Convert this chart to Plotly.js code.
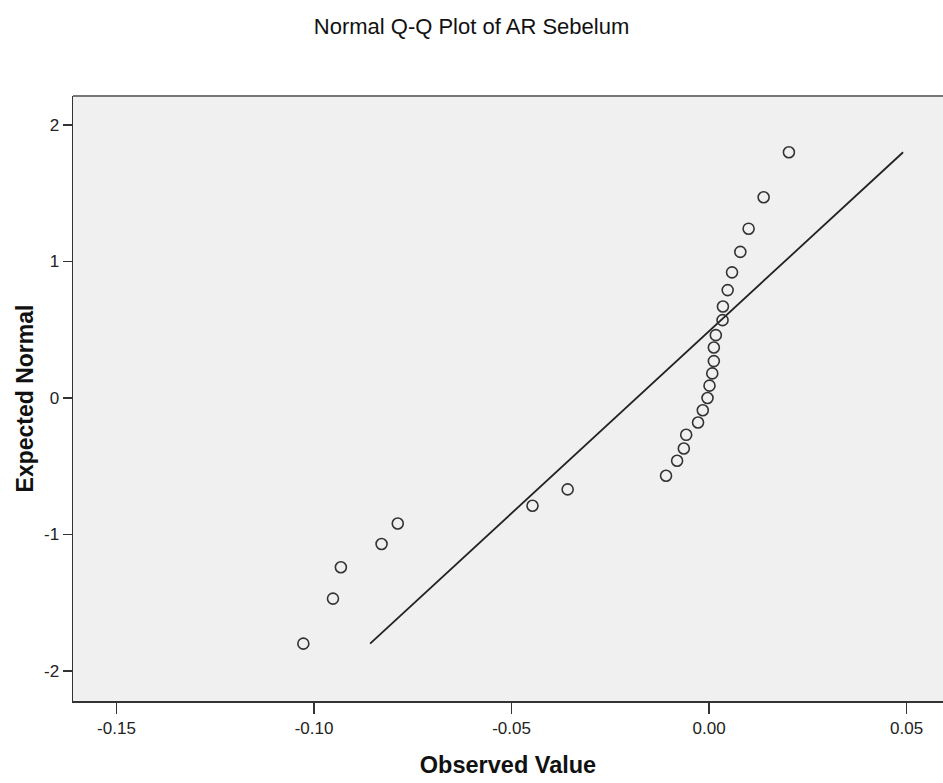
<!DOCTYPE html>
<html>
<head>
<meta charset="utf-8">
<script src="https://cdn.plot.ly/plotly-3.0.1.min.js"></script>
<style>html,body{margin:0;padding:0;background:#fff;}#chart{width:943px;height:783px;}</style>
</head>
<body>
<div id="chart"></div>
<script>
const observedValues = [-0.1027, -0.0952, -0.0932, -0.0829, -0.0788, -0.0447, -0.0358,
  -0.0109, -0.0081, -0.0064, -0.0058, -0.0028, -0.0016, -0.0004, 0.0001, 0.0008,
  0.0012, 0.0012, 0.0017, 0.0034, 0.0035, 0.0047, 0.0058, 0.0079, 0.0100, 0.0138, 0.0202];
const expectedNormal = [-1.80, -1.47, -1.24, -1.07, -0.92, -0.79, -0.67,
  -0.57, -0.46, -0.37, -0.27, -0.18, -0.09, 0.00, 0.09, 0.18,
  0.27, 0.37, 0.46, 0.57, 0.67, 0.79, 0.92, 1.07, 1.24, 1.47, 1.80];
// Reference line end points
const refLineX = [-0.0858, 0.0491];
const refLineY = [-1.80, 1.80];
// Axis ticks
const xTickVals = [-0.15, -0.10, -0.05, 0.00, 0.05];
const xTickText = ["-0.15", "-0.10", "-0.05", "0.00", "0.05"];
const yTickVals = [-2, -1, 0, 1, 2];
const yTickText = ["-2", "-1", "0", "1", "2"];

const axisColor = '#333333';
const fontFam = '"Liberation Sans", Arial, sans-serif';

const traces = [
  {
    x: refLineX, y: refLineY, type: 'scatter', mode: 'lines',
    line: {color: '#222222', width: 1.8}, hoverinfo: 'skip', showlegend: false
  },
  {
    x: observedValues, y: expectedNormal, type: 'scatter', mode: 'markers',
    marker: {symbol: 'circle-open', size: 11, color: '#333333', line: {color: '#333333', width: 1.6}},
    showlegend: false
  }
];

const layout = {
  width: 943, height: 783,
  margin: {l: 73, r: 0, t: 96, b: 82},
  paper_bgcolor: '#ffffff',
  plot_bgcolor: '#f0f0f0',
  font: {family: fontFam, color: '#222'},
  title: {
    text: 'Normal Q-Q Plot of AR Sebelum',
    font: {family: fontFam, size: 22, color: '#111'},
    x: 0.5, xanchor: 'center', xref: 'container',
    y: 1 - 26/783, yanchor: 'middle', yref: 'container'
  },
  xaxis: {
    range: [-0.161, 0.0592],
    tickvals: xTickVals, ticktext: xTickText,
    ticks: 'outside', ticklen: 11, tickwidth: 1.5, tickcolor: axisColor,
    showline: true, linecolor: axisColor, linewidth: 1.5,
    showgrid: false, zeroline: false,
    tickfont: {family: fontFam, size: 17, color: '#222'},
    title: {text: '<b>Observed Value</b>', font: {family: fontFam, size: 23.5, color: '#111'}, standoff: 19}
  },
  yaxis: {
    range: [-2.22, 2.212],
    tickvals: yTickVals, ticktext: yTickText,
    ticks: 'outside', ticklen: 9, tickwidth: 1.5, tickcolor: axisColor,
    showline: true, linecolor: axisColor, linewidth: 1.5,
    showgrid: false, zeroline: false,
    tickfont: {family: fontFam, size: 17, color: '#222'},
    title: {text: '<b>Expected Normal</b>', font: {family: fontFam, size: 23, color: '#111'}, standoff: 4}
  },
  shapes: [
    {type: 'line', xref: 'paper', yref: 'paper', x0: 0, x1: 1, y0: 1, y1: 1,
     line: {color: '#777777', width: 2}}
  ]
};

Plotly.newPlot('chart', traces, layout, {displayModeBar: false, staticPlot: true});
</script>
</body>
</html>
